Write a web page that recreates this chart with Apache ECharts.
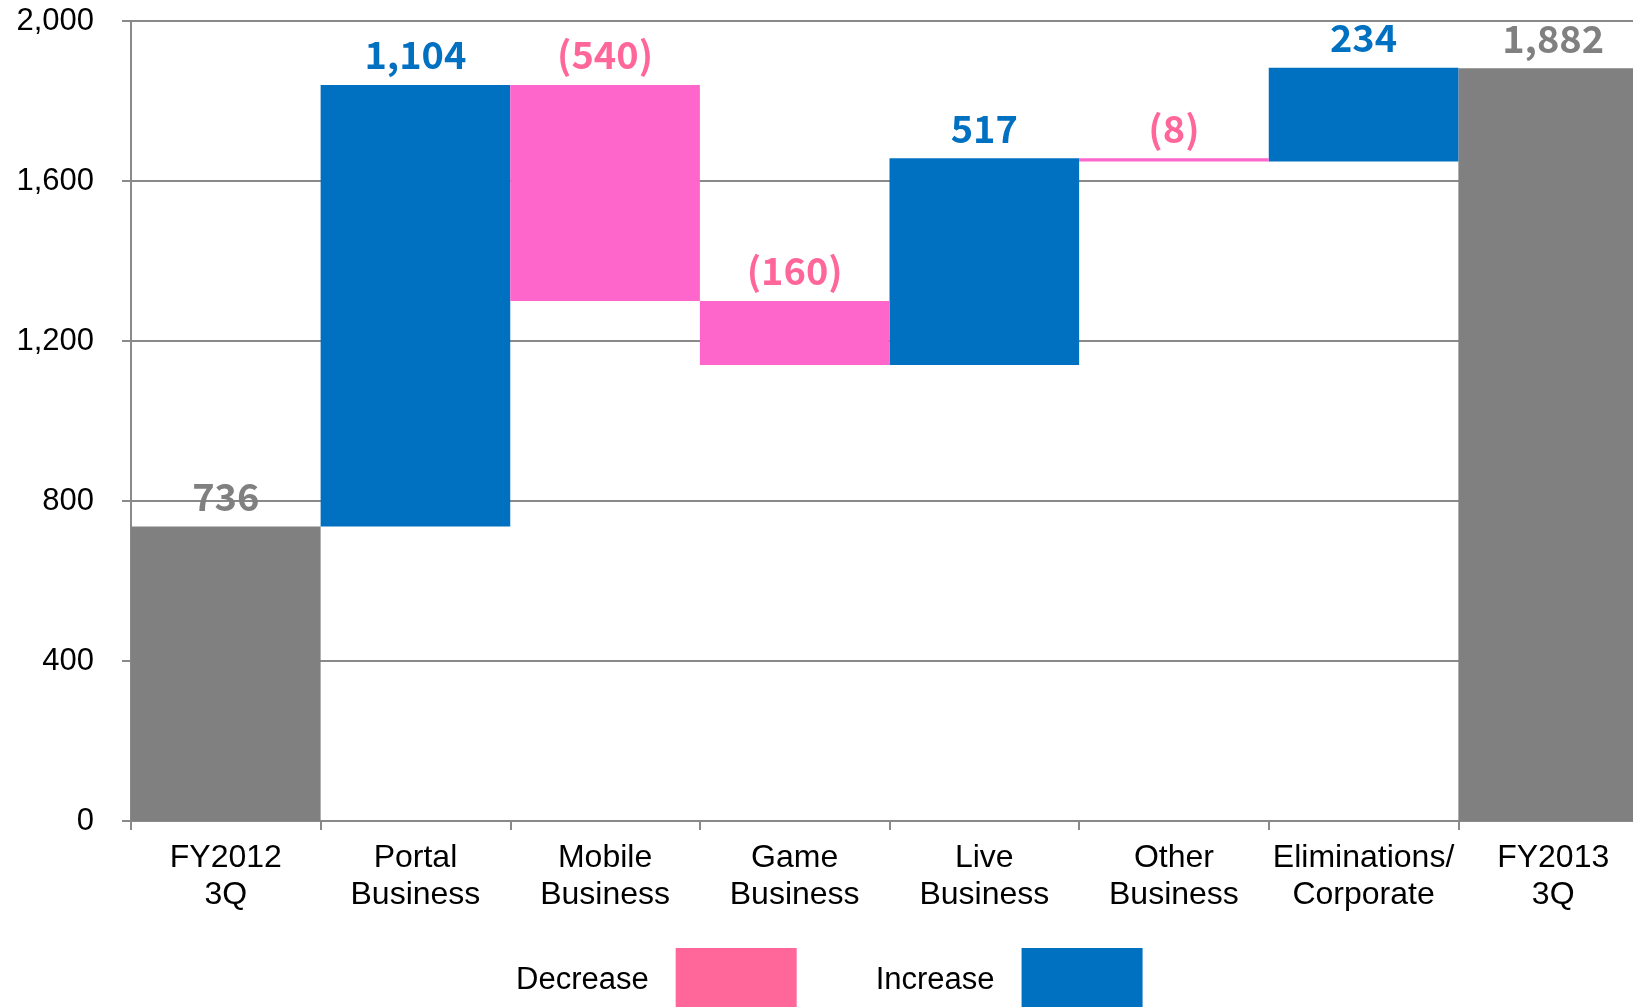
<!DOCTYPE html>
<html>
<head>
<meta charset="utf-8">
<script src="https://cdn.jsdelivr.net/npm/echarts@6/dist/echarts.min.js"></script>
<style>
  html, body { margin: 0; padding: 0; background: #fff; }
  #chart { width: 1633px; height: 1007px; }
</style>
</head>
<body>
<div id="chart"></div>
<script>
  // waterfall: first/last are totals, the rest are changes
  var categories = ['FY2012\n3Q', 'Portal\nBusiness', 'Mobile\nBusiness', 'Game\nBusiness',
    'Live\nBusiness', 'Other\nBusiness', 'Eliminations/\nCorporate', 'FY2013\n3Q']
  var startTotal = 736
  var changes = [1104, -540, -160, 517, -8, 234]
  var endTotal = 1882
  var yTicks = [0, 400, 800, 1200, 1600, 2000]

  var baseData = [], totalData = [], upData = [], downData = []
  var running = startTotal
  baseData.push(0); totalData.push(startTotal); upData.push('-'); downData.push('-')
  changes.forEach(function (d) {
    var next = running + d
    baseData.push(Math.min(running, next))
    totalData.push('-')
    if (d >= 0) { upData.push(d); downData.push('-') }
    else { upData.push('-'); downData.push(-d) }
    running = next
  })
  baseData.push(0); totalData.push(endTotal); upData.push('-'); downData.push('-')

  var labelFont = {
    fontFamily: '"Noto Sans CJK JP", "Noto Sans", sans-serif',
    fontWeight: 'bold',
    fontSize: 38
  }

  var chart = echarts.init(document.getElementById('chart'))
  var option = {
    animation: false,
    grid: { left: 131, top: 21, width: 1517, height: 800, outerBoundsMode: 'none', containLabel: false },
    legend: {
      left: 511,
      top: 943,
      align: 'right',
      itemWidth: 121,
      itemHeight: 64,
      itemGap: 79,
      selectedMode: false,
      textStyle: { fontFamily: '"Liberation Sans", Arial, sans-serif', fontSize: 31, color: '#000', padding: [0, 22, 0, 0] },
      data: [
        { name: 'Decrease', icon: 'rect', itemStyle: { color: '#FF6699' } },
        { name: 'Increase', icon: 'rect', itemStyle: { color: '#0070C0' } }
      ]
    },
    xAxis: {
      type: 'category',
      data: categories,
      axisLine: { lineStyle: { color: '#898989', width: 2 } },
      axisTick: { show: true, length: 9, lineStyle: { color: '#898989', width: 2 } },
      axisLabel: {
        interval: 0,
        margin: 19,
        lineHeight: 37,
        fontFamily: '"Liberation Sans", Arial, sans-serif',
        fontSize: 32,
        color: '#000'
      }
    },
    yAxis: {
      type: 'value',
      min: yTicks[0],
      max: yTicks[yTicks.length - 1],
      interval: 400,
      axisLine: { show: true, lineStyle: { color: '#898989', width: 2 } },
      axisTick: { show: true, length: 9, lineStyle: { color: '#898989', width: 2 } },
      splitLine: { lineStyle: { color: '#898989', width: 2 } },
      axisLabel: {
        margin: 37,
        fontFamily: '"Liberation Sans", Arial, sans-serif',
        fontSize: 31,
        color: '#000',
        formatter: function (v) { return v.toLocaleString('en-US') }
      }
    },
    series: [
      {
        name: 'base',
        type: 'bar',
        stack: 'w',
        barCategoryGap: 0,
        itemStyle: { color: 'transparent' },
        silent: true,
        data: baseData
      },
      {
        name: 'Total',
        type: 'bar',
        stack: 'w',
        barCategoryGap: 0,
        itemStyle: { color: '#808080' },
        label: Object.assign({
          show: true, position: 'top', distance: 11, color: '#808080',
          formatter: function (p) { return p.value.toLocaleString('en-US') }
        }, labelFont),
        data: totalData
      },
      {
        name: 'Increase',
        type: 'bar',
        stack: 'w',
        barCategoryGap: 0,
        itemStyle: { color: '#0070C0' },
        label: Object.assign({
          show: true, position: 'top', distance: 11, color: '#0070C0',
          formatter: function (p) { return p.value.toLocaleString('en-US') }
        }, labelFont),
        data: upData
      },
      {
        name: 'Decrease',
        type: 'bar',
        stack: 'w',
        barCategoryGap: 0,
        itemStyle: { color: '#FF66CC' },
        label: Object.assign({
          show: true, position: 'top', distance: 11, color: '#FF6699',
          formatter: function (p) { return '(' + p.value.toLocaleString('en-US') + ')' }
        }, labelFont),
        data: downData
      }
    ]
  }
  chart.setOption(option)
</script>
</body>
</html>
